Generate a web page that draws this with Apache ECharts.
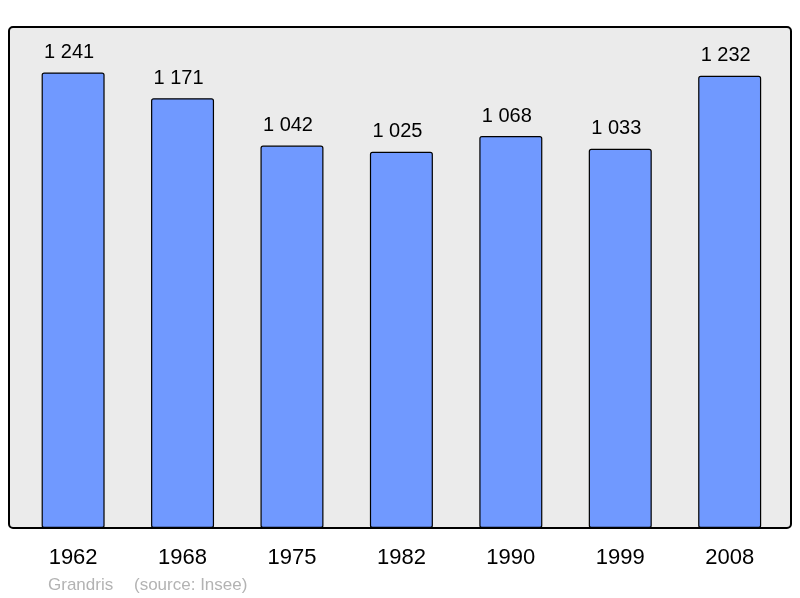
<!DOCTYPE html>
<html>
<head>
<meta charset="utf-8">
<script src="https://cdn.jsdelivr.net/npm/echarts@6/dist/echarts.min.js"></script>
<style>
  html, body { margin: 0; padding: 0; background: #fff; }
  #chart { width: 800px; height: 598px; }
</style>
</head>
<body>
<div id="chart"></div>
<script>
var years = ['1962', '1968', '1975', '1982', '1990', '1999', '2008'];
var population = [1241, 1171, 1042, 1025, 1068, 1033, 1232];

var chart = echarts.init(document.getElementById('chart'));

// "1 241" style thousands separator
function fmt(v) {
  return String(v).replace(/\B(?=(\d{3})+(?!\d))/g, ' ');
}

var option = {
  animation: false,
  textStyle: { fontFamily: 'Liberation Sans, Arial, sans-serif' },
  graphic: [
    {
      type: 'rect',
      z: -10,
      shape: { x: 9, y: 27, width: 782, height: 501, r: 4 },
      style: { fill: '#ebebeb', stroke: '#000', lineWidth: 2 }
    },
    {
      type: 'text',
      left: 48, top: 577,
      style: { text: 'Grandris', fill: '#b3b3b3', font: '17px Liberation Sans, Arial, sans-serif' }
    },
    {
      type: 'text',
      left: 134, top: 577,
      style: { text: '(source: Insee)', fill: '#b3b3b3', font: '17px Liberation Sans, Arial, sans-serif' }
    }
  ],
  grid: { left: 18.4, right: 15.6, top: 27, bottom: 70 },
  xAxis: {
    type: 'category',
    data: years,
    axisLine: { show: false },
    axisTick: { show: false },
    axisLabel: { color: '#000', fontSize: 22, margin: 19 }
  },
  yAxis: {
    type: 'value',
    min: 0,
    max: 1365,
    show: false,
    splitLine: { show: false }
  },
  series: [{
    type: 'bar',
    data: population,
    barWidth: 63,
    itemStyle: { color: '#7099ff', borderColor: '#000', borderWidth: 1.2, borderRadius: 2 },
    label: {
      show: true,
      position: 'top',
      distance: 10,
      offset: [-4, 0],
      color: '#000',
      fontSize: 20,
      formatter: function (p) { return fmt(p.value); }
    }
  }]
};

chart.setOption(option);
</script>
</body>
</html>
